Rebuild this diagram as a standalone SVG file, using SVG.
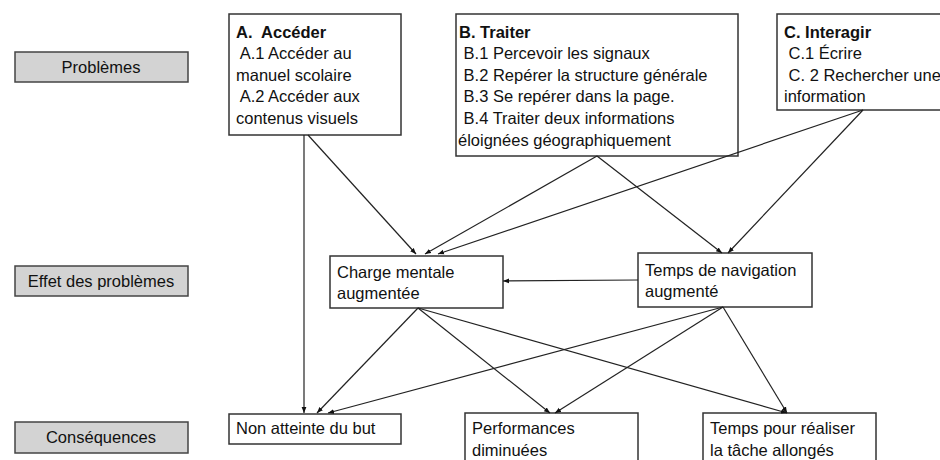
<svg xmlns="http://www.w3.org/2000/svg" width="940" height="460" viewBox="0 0 940 460">
<defs>
<marker id="arr" viewBox="0 0 10 10" refX="10" refY="5" markerWidth="6" markerHeight="6" orient="auto" markerUnits="userSpaceOnUse">
<path d="M0,1 L10,5 L0,9 z" fill="#111"/>
</marker>
</defs>
<style>
.lbl{fill:#d3d3d3;stroke:#444;stroke-width:1.5}
.box{fill:#fff;stroke:#333;stroke-width:1.5}
text{font-family:"Liberation Sans",Arial,sans-serif;font-size:16.5px;fill:#111}
.c{text-anchor:middle}
.b{font-weight:bold}
.con line{stroke:#222;stroke-width:1.2;marker-end:url(#arr)}
</style>
<rect width="940" height="460" fill="#fff"/>

<g id="lbl-problemes"><rect class="lbl" x="15" y="52" width="173" height="30"/><text class="c" x="101" y="73">Problèmes</text></g>
<g id="lbl-effet"><rect class="lbl" x="15" y="266" width="173" height="30"/><text class="c" x="101" y="287">Effet des problèmes</text></g>
<g id="lbl-consequences"><rect class="lbl" x="15" y="422" width="173" height="31"/><text class="c" x="101" y="443">Conséquences</text></g>

<g id="A"><rect class="box" x="229" y="14" width="172" height="121"/>
<text x="236" y="38" class="b" xml:space="preserve">A.  Accéder</text>
<text x="236" y="59" xml:space="preserve"> A.1 Accéder au</text>
<text x="236" y="81">manuel scolaire</text>
<text x="236" y="102" xml:space="preserve"> A.2 Accéder aux</text>
<text x="236" y="124">contenus visuels</text></g>

<g id="B"><rect class="box" x="456" y="14" width="282" height="142"/>
<text x="459" y="38" class="b">B. Traiter</text>
<text x="459" y="59" xml:space="preserve"> B.1 Percevoir les signaux</text>
<text x="459" y="81" xml:space="preserve"> B.2 Repérer la structure générale</text>
<text x="459" y="102" xml:space="preserve"> B.3 Se repérer dans la page.</text>
<text x="459" y="124" xml:space="preserve"> B.4 Traiter deux informations</text>
<text x="458" y="146">éloignées géographiquement</text></g>

<g id="C"><rect class="box" x="777" y="14" width="175" height="96"/>
<text x="784" y="38" class="b">C. Interagir</text>
<text x="784" y="59" xml:space="preserve"> C.1 Écrire</text>
<text x="784" y="81" xml:space="preserve"> C. 2 Rechercher une</text>
<text x="784" y="102">information</text></g>

<g id="charge"><rect class="box" x="330" y="256" width="173" height="52"/>
<text x="337" y="278">Charge mentale</text>
<text x="337" y="299">augmentée</text></g>

<g id="navigation"><rect class="box" x="638" y="253" width="174" height="54"/>
<text x="645" y="276">Temps de navigation</text>
<text x="645" y="297">augmenté</text></g>

<g id="nonatteinte"><rect class="box" x="229" y="414" width="172" height="30"/>
<text x="236" y="434">Non atteinte du but</text></g>

<g id="performances"><rect class="box" x="465" y="413" width="173" height="60"/>
<text x="472" y="434">Performances</text>
<text x="472" y="456">diminuées</text></g>

<g id="tempstache"><rect class="box" x="703" y="413" width="173" height="60"/>
<text x="710" y="434">Temps pour réaliser</text>
<text x="710" y="456">la tâche allongés</text></g>

<g id="connectors" class="con">
<line x1="304" y1="135" x2="304" y2="413"/>
<line x1="308" y1="135" x2="416" y2="254"/>
<line x1="597" y1="156" x2="425" y2="254"/>
<line x1="863" y1="110" x2="438" y2="254"/>
<line x1="597" y1="156" x2="722" y2="253"/>
<line x1="863" y1="110" x2="728" y2="253"/>
<line x1="638" y1="280" x2="503" y2="281"/>
<line x1="418" y1="308" x2="317" y2="413"/>
<line x1="418" y1="308" x2="550" y2="413"/>
<line x1="418" y1="308" x2="787" y2="413"/>
<line x1="723" y1="307" x2="328" y2="413"/>
<line x1="723" y1="307" x2="555" y2="413"/>
<line x1="723" y1="307" x2="787" y2="413"/>
</g>
</svg>
